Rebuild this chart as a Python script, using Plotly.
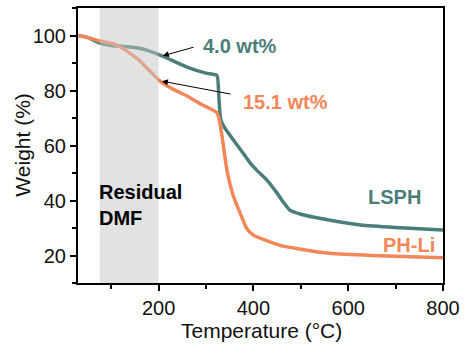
import plotly.graph_objects as go

# Temperature (°C) sample points and weights (%)
temp_lsph = [30, 50, 76, 100, 130, 167, 207, 260, 300, 323, 327, 331, 340, 357, 375, 393, 410, 428, 450, 465, 477, 500, 526, 580, 631, 700, 800]
weight_lsph = [100, 99.3, 97.2, 96.4, 96.0, 95.1, 92.6, 88.5, 86.3, 85.5, 78, 69.5, 66.3, 62.2, 58.0, 53.7, 50.5, 47.5, 42.7, 39.0, 36.5, 35.0, 34.0, 32.3, 31.0, 30.2, 29.3]

temp_phli = [30, 50, 76, 100, 118, 140, 161, 182, 203, 230, 260, 290, 323, 329, 334, 344, 357, 372, 386, 400, 428, 456, 500, 561, 650, 800]
weight_phli = [100, 99.3, 98.0, 97.2, 96.0, 93.5, 90.7, 87.0, 83.4, 80.5, 78.0, 75.0, 72.0, 68.5, 63.2, 51.2, 42.0, 35.4, 29.8, 27.4, 25.4, 23.7, 22.3, 20.8, 20.0, 19.2]

series_names = ["LSPH", "PH-Li"]
dmf_range = [76, 200]
x_ticks = [200, 400, 600, 800]
y_ticks = [20, 40, 60, 80, 100]

TEAL = "#4B7E7A"
ORANGE = "#F2875A"
FONT = "Liberation Sans, Arial, sans-serif"

fig = go.Figure()
fig.add_trace(go.Scatter(x=temp_lsph, y=weight_lsph, mode="lines", name=series_names[0],
                         line=dict(color=TEAL, width=3.5, shape="spline", smoothing=0.5)))
fig.add_trace(go.Scatter(x=temp_phli, y=weight_phli, mode="lines", name=series_names[1],
                         line=dict(color=ORANGE, width=3.5, shape="spline", smoothing=0.5)))

fig.add_shape(type="rect", xref="x", yref="paper", x0=dmf_range[0], x1=dmf_range[1], y0=0, y1=1,
              fillcolor="#c6c6c6", opacity=0.5, line=dict(width=0), layer="above")

ann = []
# arrows
ann.append(dict(x=209, y=92.6, ax=277, ay=95.9, xref="x", yref="y", axref="x", ayref="y",
                text="", showarrow=True, arrowhead=2, arrowsize=1.2, arrowwidth=1, arrowcolor="black"))
ann.append(dict(x=207, y=83.4, ax=355, ay=78.6, xref="x", yref="y", axref="x", ayref="y",
                text="", showarrow=True, arrowhead=2, arrowsize=1.2, arrowwidth=1, arrowcolor="black"))
ann.append(dict(x=290, y=96.2, xref="x", yref="y", text="<b>4.0 wt%</b>", showarrow=False,
                xanchor="left", yanchor="middle", font=dict(family=FONT, size=20, color=TEAL)))
ann.append(dict(x=374, y=75.7, xref="x", yref="y", text="<b>15.1 wt%</b>", showarrow=False,
                xanchor="left", yanchor="middle", font=dict(family=FONT, size=20, color=ORANGE)))
ann.append(dict(x=757, y=41.3, xref="x", yref="y", text="<b>LSPH</b>", showarrow=False,
                xanchor="right", yanchor="middle", font=dict(family=FONT, size=20, color=TEAL)))
ann.append(dict(x=788, y=23.7, xref="x", yref="y", text="<b>PH-Li</b>", showarrow=False,
                xanchor="right", yanchor="middle", font=dict(family=FONT, size=20, color=ORANGE)))
ann.append(dict(x=71, y=38.4, xref="x", yref="y", text="<b>Residual<br>DMF</b>", showarrow=False,
                xanchor="left", yanchor="middle", align="left",
                font=dict(family=FONT, size=20, color="black")))
# axis titles
ann.append(dict(x=0.504, y=-0.171, xref="paper", yref="paper", text="Temperature (°C)", showarrow=False,
                xanchor="center", yanchor="middle", font=dict(family=FONT, size=21, color="#111")))
ann.append(dict(x=-0.153, y=0.5, xref="paper", yref="paper", text="Weight (%)", showarrow=False,
                textangle=-90, xanchor="center", yanchor="middle", font=dict(family=FONT, size=21, color="#111")))

fig.update_layout(
    width=464, height=349,
    margin=dict(l=78, r=21, t=8, b=66, autoexpand=False),
    paper_bgcolor="white", plot_bgcolor="white",
    showlegend=False,
    annotations=ann,
    font=dict(family=FONT, size=20, color="#111"),
)
fig.update_xaxes(range=[30, 800], tickvals=x_ticks, ticks="outside", ticklen=6, tickwidth=2,
                 tickcolor="black", showline=True, linecolor="black", linewidth=2, mirror=True,
                 showgrid=False, zeroline=False,
                 minor=dict(dtick=100, tick0=0, ticks="outside", ticklen=4, tickwidth=2, tickcolor="black"),
                 tickfont=dict(family=FONT, size=20, color="#111"))
fig.update_yaxes(range=[10, 110], tickvals=y_ticks, ticks="outside", ticklen=6, tickwidth=2,
                 tickcolor="black", showline=True, linecolor="black", linewidth=2, mirror=True,
                 showgrid=False, zeroline=False,
                 minor=dict(dtick=10, tick0=0, ticks="outside", ticklen=4, tickwidth=2, tickcolor="black"),
                 tickfont=dict(family=FONT, size=20, color="#111"))

fig.write_html("out.html")
